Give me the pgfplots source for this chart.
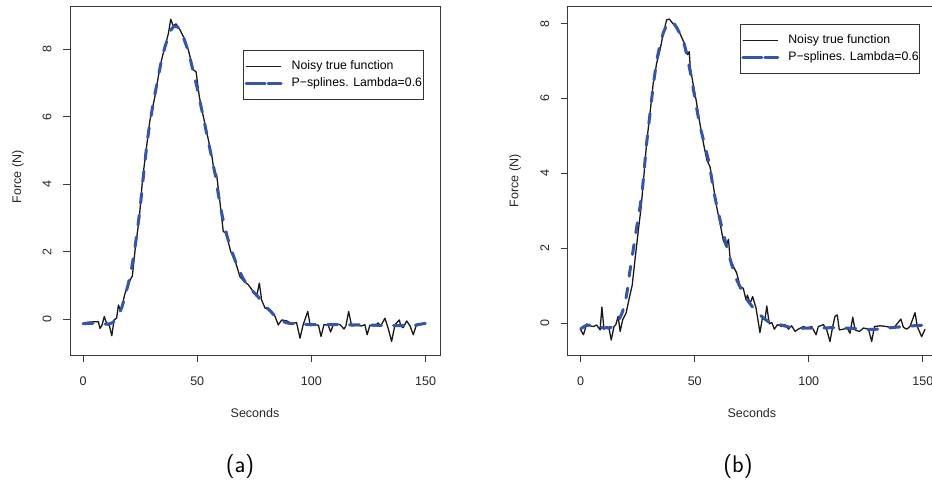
\documentclass[border=0pt]{standalone}
\usepackage{fontspec}
\setmainfont{Liberation Sans}
\usepackage{pgfplots}
\pgfplotsset{compat=1.18}
\definecolor{pblue}{RGB}{51,85,170}
\definecolor{boxgray}{RGB}{60,60,60}
\definecolor{curveblack}{RGB}{25,25,25}

\pgfplotstableread{
x y
0 -0.14
2 -0.09
4 -0.08
6.7 -0.07
7.4 -0.27
8.3 -0.18
9.3 0.08
10.2 -0.10
11.4 -0.15
12.6 -0.49
13.6 -0.02
14.7 0.03
15.5 0.42
16.5 0.23
18.4 0.77
20.6 1.16
21.6 1.28
22.8 2.05
24.7 3.04
26.1 4.18
27.7 5.04
29.3 5.90
31.5 6.60
33.7 7.48
35.0 7.85
36.3 8.18
37.4 8.47
38.4 8.89
39.5 8.69
40.7 8.75
42.5 8.57
44.7 8.27
46.1 7.98
48.3 7.39
49.5 7.33
50.9 6.60
52.7 6.00
54.9 5.31
56.5 4.80
57.4 4.37
58.5 4.28
60.0 3.44
61.4 2.60
62.6 2.55
64.7 2.00
66.6 1.73
68.7 1.26
70.5 1.12
72.4 1.02
74.2 0.85
76.0 0.67
77.2 1.07
78.2 0.57
79.7 0.33
81.9 0.28
84.1 0.08
85.5 -0.17
87.0 -0.02
89.2 -0.05
91.3 -0.13
93.5 -0.10
95.0 -0.56
96.4 -0.16
98.4 0.23
99.5 -0.19
101.7 -0.16
103.1 -0.18
104.2 -0.51
105.5 -0.16
107.4 -0.18
108.4 -0.38
109.6 -0.16
111.0 -0.14
112.5 -0.16
114.3 -0.29
115.1 -0.20
116.3 0.23
117.6 -0.20
119.8 -0.18
122.0 -0.20
123.4 -0.16
124.4 -0.46
125.6 -0.18
127.8 -0.20
129.2 -0.11
130.3 -0.20
132.2 0.03
133.7 -0.29
135.1 -0.66
136.6 -0.16
138.5 -0.02
139.1 -0.20
140.2 -0.25
141.7 -0.05
143.2 -0.20
144.6 -0.46
145.8 -0.20
147.6 -0.16
150.0 -0.13
}\noisyA

\pgfplotstableread{
x y
0 -0.13
4 -0.12
8 -0.14
11 -0.15
13 -0.10
15 0.05
17 0.35
18.5 0.70
20 1.10
21 1.40
22 1.80
23 2.25
24 2.75
25 3.30
26 3.95
27 4.60
28 5.20
29 5.70
30 6.10
31 6.50
32 6.85
33 7.20
34 7.55
35 7.85
36 8.10
37 8.30
38 8.50
39 8.62
40 8.68
41 8.68
42 8.62
43 8.50
44 8.35
45 8.15
46 7.95
47 7.70
48 7.40
49 7.12
50 6.85
51 6.52
52 6.20
53 5.88
54 5.55
55 5.22
56 4.90
57 4.57
58 4.25
59 3.80
60 3.40
61 3.05
62 2.75
63 2.48
64 2.25
65 2.05
66 1.85
67 1.67
68 1.50
69 1.36
70 1.22
72 1.00
74 0.85
76 0.72
78 0.55
80 0.38
82 0.24
84 0.10
86 -0.02
88 -0.08
90 -0.12
95 -0.15
100 -0.16
110 -0.16
120 -0.17
130 -0.18
140 -0.19
145 -0.18
150 -0.12
}\smoothA

\pgfplotstableread{
x y
0 -0.18
1.2 -0.31
2.6 -0.02
4.1 -0.07
5.5 -0.09
7.0 -0.05
8.5 -0.18
9.3 0.43
10.2 -0.16
11.4 -0.09
12.4 -0.14
13.4 -0.45
14.6 -0.09
15.4 -0.04
16.4 0.18
17.3 -0.22
18.4 0.09
19.9 0.27
21.3 0.67
22.6 1.02
23.8 1.69
25.3 2.49
26.5 3.10
27.8 4.00
28.9 4.81
30.4 5.61
31.8 6.41
33.3 6.94
34.8 7.30
36.2 7.74
37.7 8.10
38.9 8.12
40.3 8.01
42.1 7.88
43.5 7.74
45.4 7.48
46.9 7.17
47.6 7.25
48.0 6.86
49.1 6.45
50.6 5.96
52.0 5.43
53.8 4.81
55.3 4.36
56.7 4.18
57.5 3.90
58.2 3.65
59.6 3.11
61.1 2.67
62.5 2.22
63.7 2.05
64.8 2.24
65.5 1.74
67.0 1.51
68.4 1.34
69.9 0.98
71.3 0.93
72.5 0.62
73.1 0.75
74.3 0.53
75.4 0.71
76.9 0.40
78.6 -0.25
79.8 0.18
80.8 0.09
81.6 0.46
82.7 -0.02
83.8 0.02
84.9 -0.16
86.3 -0.04
88.2 -0.09
89.6 -0.04
91.1 -0.16
92.5 -0.07
94.0 -0.22
95.4 -0.16
97.7 -0.09
99.1 -0.13
101.3 -0.09
103.2 -0.31
104.2 -0.09
106.4 -0.04
107.9 -0.18
109.3 -0.49
110.5 -0.09
111.5 0.18
112.5 0.22
113.4 -0.18
115.2 -0.16
116.9 -0.13
118.1 -0.27
119.3 0.16
120.3 -0.18
122.2 -0.22
124.0 -0.13
126.2 -0.16
127.6 -0.49
128.8 -0.09
131.3 -0.07
134.2 -0.09
136.4 -0.13
137.8 -0.09
140.4 0.11
141.5 -0.11
143.0 -0.16
144.4 -0.09
146.6 0.28
147.6 -0.09
149.5 -0.36
151.0 -0.16
}\noisyB

\pgfplotstableread{
x y
0 -0.15
2 -0.07
4 -0.05
7 -0.08
10 -0.13
13 -0.12
15 -0.05
16.5 0.05
18 0.25
19.4 0.50
20.5 0.90
21.6 1.40
23 1.95
24.6 2.58
26 3.10
27.1 3.60
28 4.20
28.9 4.80
30.4 5.60
31.8 6.35
33.3 7.00
34.8 7.45
36.2 7.75
37.8 7.98
39.4 8.05
41 8.00
42.5 7.85
45 7.55
46.8 7.10
48.7 6.50
50.5 5.85
52.3 5.26
54.2 4.80
56 4.36
57.2 3.95
58.2 3.56
59.6 3.15
61.1 2.76
62.5 2.40
64 2.05
66 1.60
68.4 1.16
71 0.82
73.5 0.58
76 0.38
78.6 0.22
82 0.05
85 -0.02
87.4 -0.04
91 -0.10
95 -0.14
100 -0.13
105 -0.13
110 -0.12
115 -0.13
120 -0.14
125 -0.16
128 -0.17
132 -0.15
136 -0.12
140 -0.10
144 -0.08
148 -0.06
151 -0.05
}\smoothB

\pgfplotsset{
  rstyle/.style={
    scale only axis,
    height=349pt,
    axis line style={boxgray, line width=0.8pt},
    tick style={boxgray, line width=0.8pt},
    tick align=outside,
    major tick length=7pt,
    xtick pos=left, ytick pos=left,
    xtick={0,50,100,150}, ytick={0,2,4,6,8},
    /pgf/number format/assume math mode=true,
    ticklabel style={font=\fontsize{12.5}{14}\selectfont, text=black!85},
    yticklabel style={rotate=90, anchor=south},
    xticklabel shift=11pt,
    yticklabel shift=8pt,
    label style={font=\fontsize{12.5}{14}\selectfont, text=black!85},
    xlabel={Seconds}, ylabel={Force (N)},
    xlabel style={at={(axis description cs:0.5,-0.165)}, anchor=center},
    legend cell align=left,
    legend image code/.code={%
      \path (0pt,0pt) -- (35pt,0pt);
      \draw[##1] (9pt,0pt) -- (35pt,0pt);},
    legend style={anchor=north west, draw=black!80, line width=0.7pt,
      fill=white, inner xsep=1pt, inner ysep=10pt, row sep=4.8pt,
      column sep=9pt,
      font=\fontsize{12.3}{14}\selectfont,
      nodes={inner sep=0pt, text height=9.2pt, text depth=2.7pt},
      cells={anchor=west}},
  },
  noisy/.style={curveblack, line width=1.3pt, line join=round},
  psp/.style={pblue, line width=3pt, line cap=round, dash pattern=on 10pt off 12pt},
}

\begin{document}
\begin{tikzpicture}
\useasboundingbox (0pt,0pt) rectangle (932pt,483pt);

\begin{axis}[rstyle,
  at={(70pt,128pt)}, anchor=south west,
  width=370pt,
  xmin=-5.7, xmax=156.3, ymin=-1.06, ymax=9.28,
  ylabel style={at={(axis description cs:-0.1405,0.511)}, anchor=center},
  legend style={at={(0.4684,0.8739)}},
]
\addplot[noisy] table[x=x,y=y] {\noisyA};
\addlegendentry{Noisy true function}
\addplot[psp] table[x=x,y=y] {\smoothA};
\addlegendentry{P−splines. Lambda=0.6}
\end{axis}

\begin{axis}[rstyle,
  at={(567.7pt,128pt)}, anchor=south west,
  width=368.3pt,
  xmin=-5.7, xmax=155.8, ymin=-0.85, ymax=8.47,
  ylabel style={at={(axis description cs:-0.143,0.4986)}, anchor=center},
  legend style={at={(0.4678,0.9484)}},
]
\addplot[noisy] table[x=x,y=y] {\noisyB};
\addlegendentry{Noisy true function}
\addplot[psp] table[x=x,y=y] {\smoothB};
\addlegendentry{P−splines. Lambda=0.6}
\end{axis}

\node[font=\fontsize{24}{28}\sffamily] at (240pt,16pt) {(a)};
\node[font=\fontsize{24}{28}\sffamily] at (738pt,16pt) {(b)};
\end{tikzpicture}
\end{document}
